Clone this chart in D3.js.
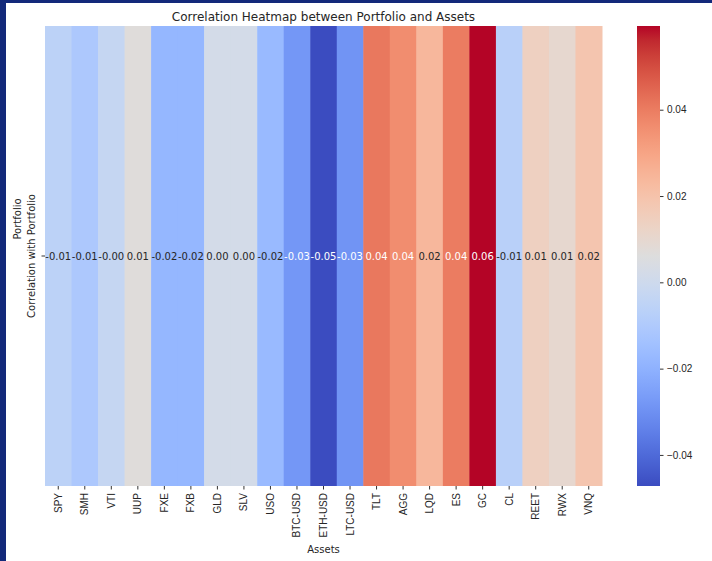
<!DOCTYPE html>
<html>
<head>
<meta charset="utf-8">
<script src="https://cdn.jsdelivr.net/npm/d3@7"></script>
<style>
    html, body { margin: 0; padding: 0; background: #fff; }
    svg { display: block; font-family: "DejaVu Sans", sans-serif; }
    .axis path { display: none; }
    .axis line { stroke: #333; }
    .axis text { fill: #262626; font-size: 10px; }
</style>
</head>
<body>
<div id="chart"></div>
<script>
// ============================================================================
// Correlation heatmap - one row (portfolio) against each asset
// ============================================================================

const assets = ['SPY', 'SMH', 'VTI', 'UUP', 'FXE', 'FXB', 'GLD', 'SLV', 'USO', 'BTC-USD',
    'ETH-USD', 'LTC-USD', 'TLT', 'AGG', 'LQD', 'ES', 'GC', 'CL', 'REET', 'RWX', 'VNQ'];
const correlations = [-0.006, -0.011, -0.003, 0.007, -0.018, -0.018, 0.002, 0.002, -0.017, -0.028,
    -0.0472, -0.029, 0.041, 0.036, 0.024, 0.040, 0.0594, -0.007, 0.014, 0.010, 0.019];
const rowLabel = 'Correlation with Portfolio';
const colorbarTicks = [-0.04, -0.02, 0.00, 0.02, 0.04];

// matplotlib "coolwarm" control points
const coolwarm = [
    [59, 76, 192], [68, 90, 204], [77, 104, 215], [87, 117, 225], [98, 130, 234],
    [108, 142, 241], [119, 154, 247], [130, 165, 251], [141, 176, 254], [152, 185, 255],
    [163, 194, 255], [174, 201, 253], [184, 208, 249], [194, 213, 244], [204, 217, 238],
    [213, 219, 230], [221, 221, 221], [229, 216, 209], [236, 211, 197], [241, 204, 185],
    [245, 196, 173], [247, 187, 160], [247, 177, 148], [247, 166, 135], [244, 154, 123],
    [241, 141, 111], [236, 127, 99], [229, 112, 88], [222, 96, 77], [213, 80, 66],
    [203, 62, 56], [192, 40, 47], [180, 4, 38]
].map(c => d3.rgb(c[0], c[1], c[2]).formatHex());

const width = 712, height = 561;
const margin = { top: 26, left: 45, bottom: 75 };
const heatW = 557;
const heatH = height - margin.top - margin.bottom;

const svg = d3.select('#chart').append('svg')
    .attr('width', width).attr('height', height);

// frame around the figure
svg.append('rect').attr('x', 0).attr('y', 0).attr('width', width).attr('height', 3).attr('fill', '#13297a');
svg.append('rect').attr('x', 0).attr('y', 0).attr('width', 6).attr('height', height).attr('fill', '#13297a');

const vmin = d3.min(correlations), vmax = d3.max(correlations);
const cmap = d3.scaleLinear()
    .domain(coolwarm.map((_, i) => i / (coolwarm.length - 1)))
    .range(coolwarm)
    .interpolate(d3.interpolateRgb);
const norm = d3.scaleLinear().domain([vmin, vmax]).range([0, 1]).clamp(true);
const color = v => cmap(norm(v));

function luminance(c) {
    const rgb = d3.rgb(c);
    const f = x => { x /= 255; return x <= 0.03928 ? x / 12.92 : Math.pow((x + 0.055) / 1.055, 2.4); };
    return 0.2126 * f(rgb.r) + 0.7152 * f(rgb.g) + 0.0722 * f(rgb.b);
}

const g = svg.append('g').attr('transform', `translate(${margin.left},${margin.top})`);

const xScale = d3.scaleBand().domain(assets).range([0, heatW]);
const yScale = d3.scaleBand().domain([rowLabel]).range([0, heatH]);

const cells = assets.map((a, i) => ({ asset: a, value: correlations[i] }));

// Cells
g.selectAll('.cell')
    .data(cells)
    .join('rect')
    .attr('x', d => xScale(d.asset))
    .attr('y', yScale(rowLabel))
    .attr('width', xScale.bandwidth() + 0.5)
    .attr('height', yScale.bandwidth())
    .attr('fill', d => color(d.value));

// Annotations (plain hyphen, sign kept for -0.00)
g.selectAll('.annot')
    .data(cells)
    .join('text')
    .attr('x', d => xScale(d.asset) + xScale.bandwidth() / 2)
    .attr('y', yScale(rowLabel) + yScale.bandwidth() / 2)
    .attr('dy', '0.35em')
    .attr('text-anchor', 'middle')
    .style('font-size', '10px')
    .attr('fill', d => luminance(color(d.value)) > 0.408 ? '#262626' : '#ffffff')
    .text(d => d.value.toFixed(2));

// X axis
const xAxis = g.append('g')
    .attr('class', 'axis')
    .attr('transform', `translate(0,${heatH})`)
    .call(d3.axisBottom(xScale).tickSize(3.5).tickPadding(3));
xAxis.selectAll('text')
    .attr('transform', 'rotate(-90)')
    .attr('text-anchor', 'end')
    .attr('x', -7)
    .attr('y', 0)
    .attr('dy', '0.35em');

// Y axis tick
g.append('line')
    .attr('x1', -3.5).attr('x2', 0)
    .attr('y1', yScale(rowLabel) + yScale.bandwidth() / 2)
    .attr('y2', yScale(rowLabel) + yScale.bandwidth() / 2)
    .attr('stroke', '#333');

g.append('text')
    .attr('transform', `translate(-10,${yScale(rowLabel) + yScale.bandwidth() / 2}) rotate(-90)`)
    .attr('text-anchor', 'middle')
    .style('font-size', '10px')
    .attr('fill', '#262626')
    .text(rowLabel);

g.append('text')
    .attr('transform', `translate(-24,${yScale(rowLabel) + yScale.bandwidth() / 2 - 37}) rotate(-90)`)
    .attr('text-anchor', 'middle')
    .style('font-size', '10px')
    .attr('fill', '#262626')
    .text('Portfolio');

// Axis title + chart title
g.append('text')
    .attr('x', heatW / 2)
    .attr('y', heatH + 67)
    .attr('text-anchor', 'middle')
    .style('font-size', '10px')
    .attr('fill', '#262626')
    .text('Assets');

g.append('text')
    .attr('x', heatW / 2)
    .attr('y', -5)
    .attr('text-anchor', 'middle')
    .style('font-size', '12px')
    .attr('fill', '#262626')
    .text('Correlation Heatmap between Portfolio and Assets');

// Colorbar
const cbX = 637, cbW = 23;
const defs = svg.append('defs');
const grad = defs.append('linearGradient')
    .attr('id', 'cbar').attr('x1', 0).attr('x2', 0).attr('y1', 1).attr('y2', 0);
coolwarm.forEach((c, i) => {
    grad.append('stop').attr('offset', i / (coolwarm.length - 1)).attr('stop-color', c);
});

const cbScale = d3.scaleLinear().domain([vmin, vmax]).range([margin.top + heatH, margin.top]);
svg.append('rect')
    .attr('x', cbX).attr('y', margin.top)
    .attr('width', cbW).attr('height', heatH)
    .attr('fill', 'url(#cbar)');

svg.append('g')
    .attr('class', 'axis')
    .attr('transform', `translate(${cbX + cbW},0)`)
    .call(d3.axisRight(cbScale).tickValues(colorbarTicks).tickSize(3.5).tickPadding(3.5)
        .tickFormat(d => d3.format('.2f')(d)));
</script>
</body>
</html>
